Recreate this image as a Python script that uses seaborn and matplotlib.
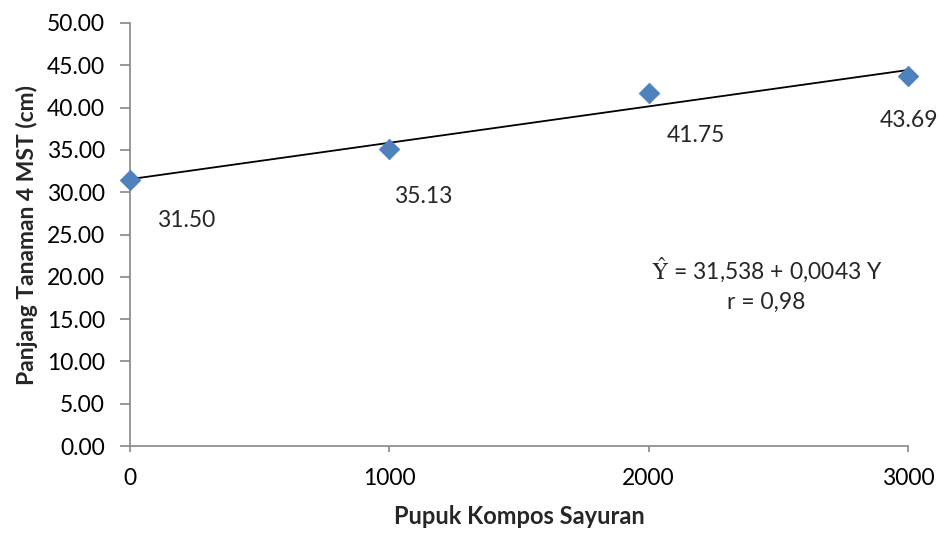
import matplotlib
matplotlib.use('Agg')
import matplotlib.pyplot as plt
import pandas as pd
import seaborn as sns
from matplotlib.ticker import FormatStrFormatter

# Data
dosis = [0, 1000, 2000, 3000]
panjang = [31.50, 35.13, 41.75, 43.69]
label_teks = ['31.50', '35.13', '41.75', '43.69']
# regression line as printed on the chart
intercept = 31.538
slope = 0.0043

df = pd.DataFrame({'dosis': dosis, 'panjang': panjang})
df_line = pd.DataFrame({'dosis': [dosis[0], dosis[-1]]})
df_line['fit'] = intercept + slope * df_line['dosis']

sns.set_style('white')
plt.rcParams['font.family'] = ['Lato', 'DejaVu Sans']
plt.rcParams['mathtext.fontset'] = 'stix'

fig = plt.figure(figsize=(9.39, 5.33), dpi=100)
ax = fig.add_axes([0.1384, 0.163, 0.8286, 0.794])

sns.lineplot(data=df_line, x='dosis', y='fit', color='black', linewidth=1.3, ax=ax, zorder=2)
sns.scatterplot(data=df, x='dosis', y='panjang', marker='D', s=110, color='#4F81BD',
                edgecolor='#4A7EBB', linewidth=0.5, ax=ax, zorder=3, clip_on=False)

# data labels (offsets in pixels)
offsets = [(56, -41), (34, -48), (47, -43), (1, -44)]
for xv, yv, txt, off in zip(dosis, panjang, label_teks, offsets):
    ax.annotate(txt, (xv, yv), xytext=off, textcoords='offset pixels',
                ha='center', va='center', fontsize=16.5)

ax.set_xlim(0, 3000)
ax.set_ylim(0, 50)
ax.set_xticks([0, 1000, 2000, 3000])
ax.set_yticks([0, 5, 10, 15, 20, 25, 30, 35, 40, 45, 50])
ax.yaxis.set_major_formatter(FormatStrFormatter('%.2f'))
ax.tick_params(axis='both', labelsize=16.5, colors='#888888', labelcolor='black')
ax.tick_params(axis='y', length=7, width=1.2, direction='out', left=True, pad=11)
ax.tick_params(axis='x', length=4.5, width=1.2, direction='out', bottom=True, pad=11)

for side in ['top', 'right']:
    ax.spines[side].set_visible(False)
for side in ['left', 'bottom']:
    ax.spines[side].set_color('#888888')
    ax.spines[side].set_linewidth(1.2)

ax.set_xlabel('Pupuk Kompos Sayuran', fontsize=17, fontweight='bold', labelpad=12)
ax.set_ylabel('Panjang Tanaman 4 MST (cm)', fontsize=16.5, fontweight='bold', labelpad=6)

ax.text(0.818, 0.415, r'$\hat{\mathrm{Y}}$ = 31,538 + 0,0043 Y', transform=ax.transAxes,
        ha='center', va='center', fontsize=16.5)
ax.text(0.818, 0.34, 'r = 0,98', transform=ax.transAxes,
        ha='center', va='center', fontsize=16.5)

fig.savefig('out.png', dpi=100)
